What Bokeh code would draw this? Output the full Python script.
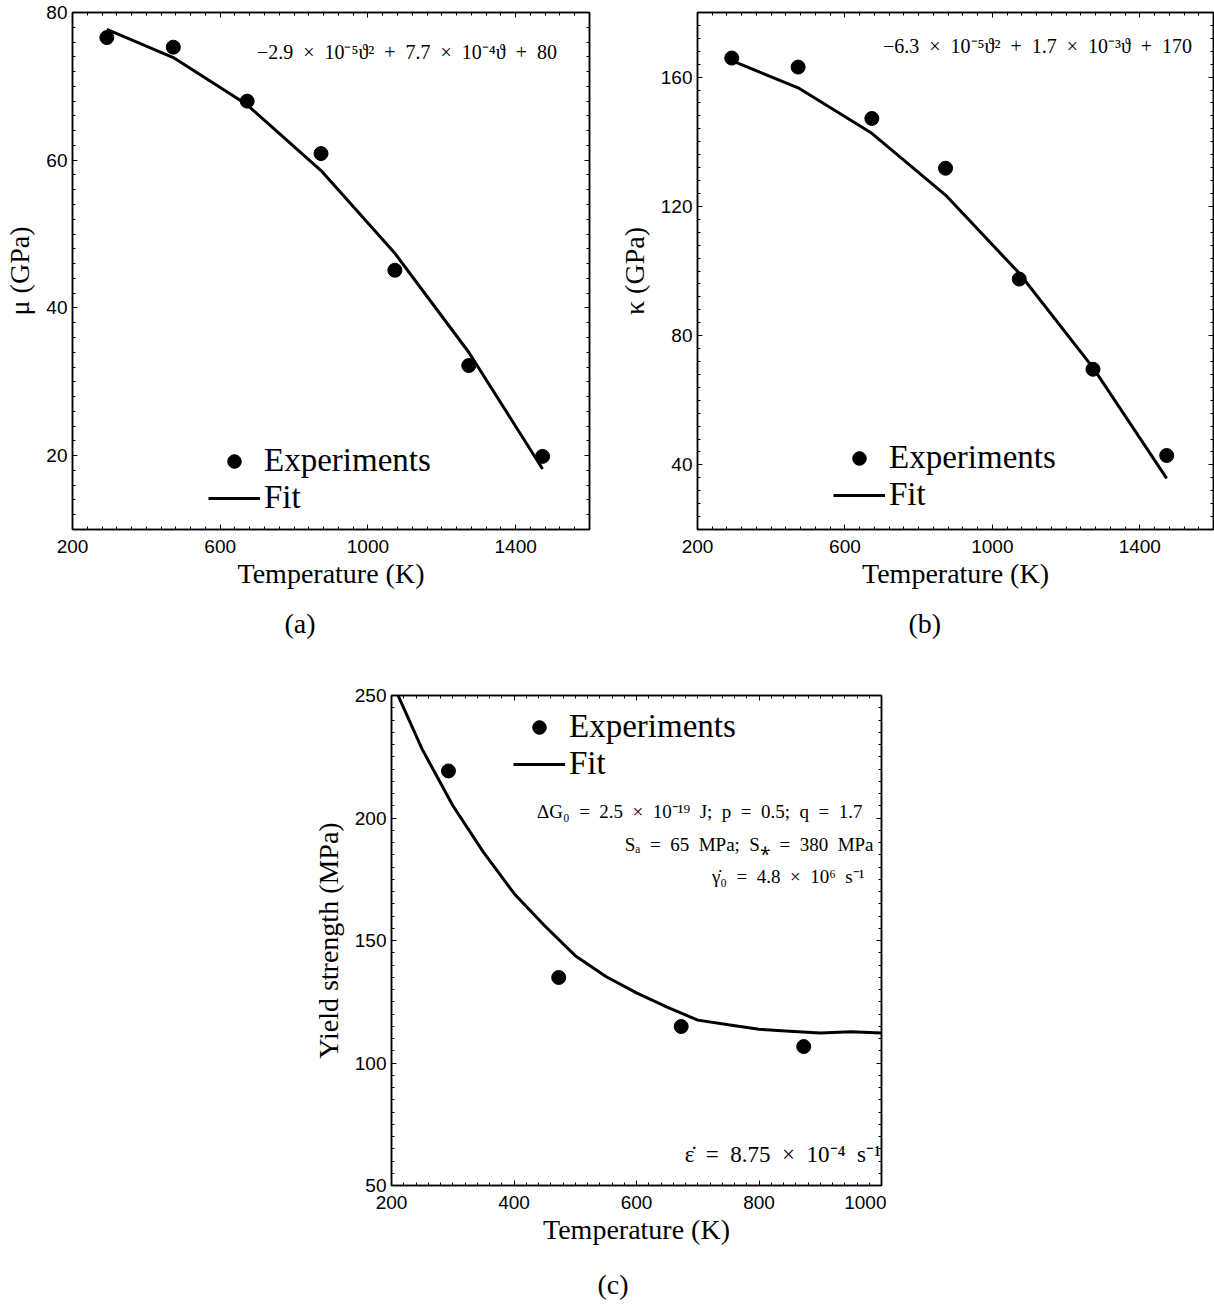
import numpy as np
from bokeh.plotting import figure
from bokeh.models import (Range1d, FixedTicker, LinearAxis, Legend, LegendItem,
                          Label, Title)
from bokeh.layouts import column, row
from bokeh.embed import file_html
from bokeh.resources import INLINE

# ---- data -------------------------------------------------------------
temp_elastic = [293, 473, 673, 873, 1073, 1273, 1473]          # K
shear_exp = [76.6, 75.3, 68.0, 60.9, 45.1, 32.2, 19.9]          # GPa
shear_fit = [77.7, 73.9, 67.5, 58.6, 47.4, 34.0, 18.2]          # GPa
bulk_exp = [165.9, 163.1, 147.2, 131.8, 97.5, 69.6, 42.9]       # GPa
bulk_fit = [165.1, 156.7, 142.6, 123.5, 99.3, 70.1, 35.8]       # GPa

temp_yield = [293, 473, 673, 873]                               # K
yield_exp = [219.2, 134.9, 114.9, 106.7]                        # MPa
temp_yield_fit = [200, 250, 300, 350, 400, 450, 500, 550, 600,
                  650, 700, 750, 800, 850, 900, 950, 1000]      # K
yield_fit = [256.0, 228.1, 205.1, 186.1, 169.2, 156.0, 143.8, 135.3, 128.6,
             122.8, 117.5, 115.6, 113.8, 113.0, 112.2, 112.8, 112.2]  # MPa

# tick labels
xticks_ab = [200, 600, 1000, 1400]
yticks_a = [20, 40, 60, 80]
yticks_b = [40, 80, 120, 160]
xticks_c = [200, 400, 600, 800, 1000]
yticks_c = [50, 100, 150, 200, 250]

SERIF = "Liberation Serif"
SANS = "Liberation Sans"
SP = "\u2002"  # en space, for math-like spacing around operators


def minor(lo, hi, step):
    return list(np.arange(lo, hi + step / 2, step))


def style_axis(ax, ticks, minors, labels=True):
    ax.ticker = FixedTicker(ticks=ticks, minor_ticks=minors)
    ax.axis_line_color = "black"
    ax.axis_line_width = 1.5
    ax.major_tick_in = 5
    ax.major_tick_out = 0
    ax.minor_tick_in = 3
    ax.minor_tick_out = 0
    ax.major_tick_line_color = "black"
    ax.minor_tick_line_color = "black"
    ax.major_tick_line_width = 1
    ax.minor_tick_line_width = 1
    if labels:
        ax.major_label_text_font = SANS
        ax.major_label_text_font_size = "19px"
        ax.major_label_text_color = "black"
        ax.axis_label_text_font = SERIF
        ax.axis_label_text_font_size = "28px"
        ax.axis_label_text_font_style = "normal"
        ax.axis_label_text_color = "black"
    else:
        # frame ticks only: no tick labels on the top and right sides
        ax.major_label_text_color = None
        ax.major_label_standoff = 0


def panel(xr, yr, xt, xm, yt, ym, fw, fh, borders, xlabel, ylabel):
    left, right, top, bottom = borders
    p = figure(frame_width=fw, frame_height=fh, x_range=Range1d(*xr),
               y_range=Range1d(*yr), min_border_left=left,
               min_border_right=right, min_border_top=top,
               min_border_bottom=bottom, output_backend="svg",
               toolbar_location=None, background_fill_color="white",
               border_fill_color="white")
    p.grid.visible = False
    p.outline_line_color = "black"
    p.outline_line_width = 1.5
    style_axis(p.xaxis[0], xt, xm)
    style_axis(p.yaxis[0], yt, ym)
    p.xaxis[0].axis_label = xlabel
    p.yaxis[0].axis_label = ylabel
    p.xaxis[0].major_label_standoff = 10
    p.xaxis[0].axis_label_standoff = 2
    p.yaxis[0].major_label_standoff = 5
    p.yaxis[0].axis_label_standoff = 8
    top_ax = LinearAxis()
    style_axis(top_ax, xt, xm, labels=False)
    p.add_layout(top_ax, "above")
    right_ax = LinearAxis()
    style_axis(right_ax, yt, ym, labels=False)
    p.add_layout(right_ax, "right")
    return p


def legend_entry(p, label, renderer, loc):
    p.add_layout(Legend(items=[LegendItem(label=label, renderers=[renderer])],
                        location=loc, glyph_width=52, glyph_height=34,
                        label_height=34, label_standoff=4, spacing=0,
                        padding=0, margin=0, border_line_alpha=0,
                        background_fill_alpha=0, label_text_font=SERIF,
                        label_text_font_size="33px",
                        label_text_color="black"))


def add_legend(p, sc, ln, x, y_fit, pitch):
    legend_entry(p, "Experiments", sc, (x, y_fit + pitch))
    legend_entry(p, "Fit", ln, (x, y_fit))


def caption(p, text, offset, standoff):
    p.add_layout(Title(text=text, align="left", offset=offset,
                       standoff=standoff, text_font=SERIF,
                       text_font_size="28px", text_font_style="normal",
                       text_color="black"), "below")


def note(p, x, y, text, size):
    p.add_layout(Label(x=x, y=y, text=text, text_align="right",
                       text_baseline="middle", text_font=SERIF,
                       text_font_size=size, text_color="black"))


# ---- (a) shear modulus ----------------------------------------------
pa = panel((200, 1600), (10, 80), xticks_ab, minor(200, 1600, 40),
           yticks_a, minor(10, 80, 2), 517, 517, (72, 20, 12, 131),
           "Temperature (K)", "μ (GPa)")
ln_a = pa.line(temp_elastic, shear_fit, line_color="black", line_width=3)
sc_a = pa.scatter(temp_elastic, shear_exp, size=14, color="black")
add_legend(pa, sc_a, ln_a, 136, 13, 37)
note(pa, 1512, 74.7,
     f"−2.9{SP}×{SP}10⁻⁵ϑ²{SP}+{SP}7.7{SP}×{SP}10⁻⁴ϑ{SP}+{SP}80", "20px")
caption(pa, "(a)", 212, 29)

# ---- (b) bulk modulus -----------------------------------------------
pb = panel((200, 1600), (20, 180), xticks_ab, minor(200, 1600, 40),
           yticks_b, minor(20, 180, 4), 516, 517, (88, 1, 8, 135),
           "Temperature (K)", "κ (GPa)")
ln_b = pb.line(temp_elastic, bulk_fit, line_color="black", line_width=3)
sc_b = pb.scatter(temp_elastic, bulk_exp, size=14, color="black")
add_legend(pb, sc_b, ln_b, 136, 16, 37)
note(pb, 1542, 169.6,
     f"−6.3{SP}×{SP}10⁻⁵ϑ²{SP}+{SP}1.7{SP}×{SP}10⁻³ϑ{SP}+{SP}170", "20px")
caption(pb, "(b)", 211, 29)

# ---- (c) yield strength ---------------------------------------------
pc = panel((200, 1000), (50, 250), xticks_c, minor(200, 1000, 20),
           yticks_c, minor(50, 250, 5), 490, 490, (391, 5, 35, 124),
           "Temperature (K)", "Yield strength (MPa)")
ln_c = pc.line(temp_yield_fit, yield_fit, line_color="black", line_width=3)
sc_c = pc.scatter(temp_yield, yield_exp, size=14, color="black")
add_legend(pc, sc_c, ln_c, 122, 403, 37)
note(pc, 969, 202.5,
     f"ΔG₀{SP}={SP}2.5{SP}×{SP}10⁻¹⁹{SP}J;{SP}p{SP}={SP}0.5;{SP}q{SP}={SP}1.7",
     "19px")
note(pc, 987, 189.0, f"Sₐ{SP}={SP}65{SP}MPa;{SP}S⁎{SP}={SP}380{SP}MPa", "19px")
note(pc, 972, 176.2, f"γ̇₀{SP}={SP}4.8{SP}×{SP}10⁶{SP}s⁻¹", "19px")
note(pc, 999, 62.5, f"ε̇{SP}={SP}8.75{SP}×{SP}10⁻⁴{SP}s⁻¹", "23px")
caption(pc, "(c)", 206, 39)

layout = column(row(pa, pb), pc)
open("out.html", "w").write(file_html(layout, INLINE))
